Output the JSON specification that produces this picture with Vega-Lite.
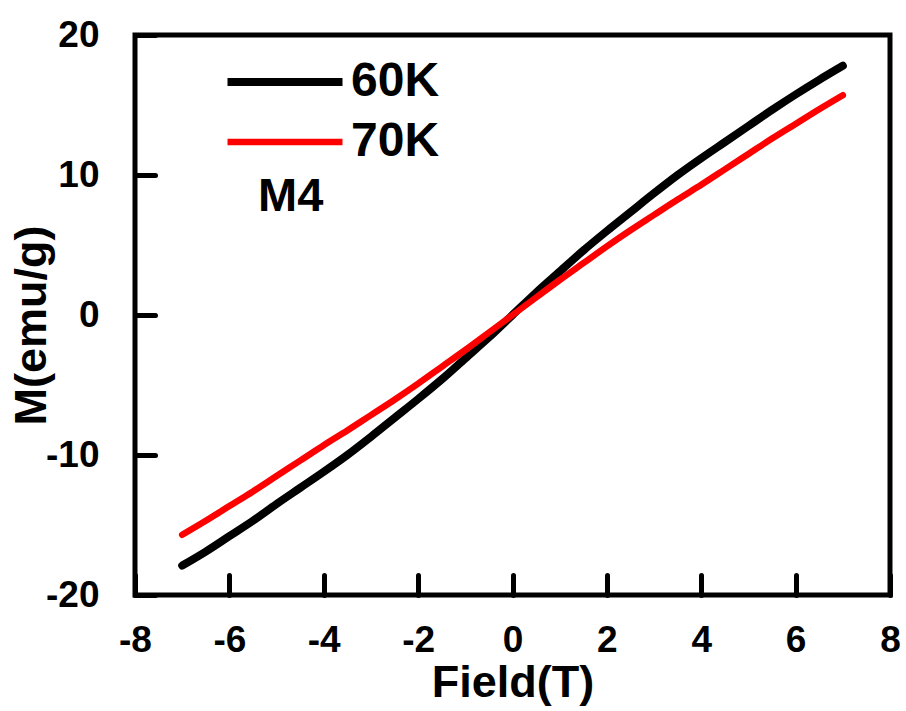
{
  "$schema": "https://vega.github.io/schema/vega-lite/v6.json",
  "width": 755,
  "height": 560,
  "autosize": {"type": "none"},
  "padding": {"left": 135, "top": 35, "right": 16, "bottom": 116},
  "background": "white",
  "config": {
    "view": {"stroke": "black", "strokeWidth": 5},
    "font": "Liberation Sans"
  },
  "layer": [
    {
      "data": {
        "values": [
          {"series": "60K", "field": -7.0, "m": -17.9},
          {"series": "60K", "field": -6.5, "m": -16.9},
          {"series": "60K", "field": -6.0, "m": -15.8},
          {"series": "60K", "field": -5.5, "m": -14.7},
          {"series": "60K", "field": -5.0, "m": -13.5},
          {"series": "60K", "field": -4.5, "m": -12.35},
          {"series": "60K", "field": -4.0, "m": -11.2},
          {"series": "60K", "field": -3.5, "m": -10.0},
          {"series": "60K", "field": -3.0, "m": -8.7},
          {"series": "60K", "field": -2.5, "m": -7.35},
          {"series": "60K", "field": -2.0, "m": -6.0},
          {"series": "60K", "field": -1.5, "m": -4.6},
          {"series": "60K", "field": -1.0, "m": -3.1},
          {"series": "60K", "field": -0.5, "m": -1.6},
          {"series": "60K", "field": 0.0, "m": 0.0},
          {"series": "60K", "field": 0.5, "m": 1.6},
          {"series": "60K", "field": 1.0, "m": 3.1},
          {"series": "60K", "field": 1.5, "m": 4.6},
          {"series": "60K", "field": 2.0, "m": 6.0},
          {"series": "60K", "field": 2.5, "m": 7.35},
          {"series": "60K", "field": 3.0, "m": 8.7},
          {"series": "60K", "field": 3.5, "m": 10.0},
          {"series": "60K", "field": 4.0, "m": 11.2},
          {"series": "60K", "field": 4.5, "m": 12.35},
          {"series": "60K", "field": 5.0, "m": 13.5},
          {"series": "60K", "field": 5.5, "m": 14.65},
          {"series": "60K", "field": 6.0, "m": 15.75},
          {"series": "60K", "field": 6.5, "m": 16.8},
          {"series": "60K", "field": 7.0, "m": 17.8},
          {"series": "70K", "field": -7.0, "m": -15.7},
          {"series": "70K", "field": -6.5, "m": -14.7},
          {"series": "70K", "field": -6.0, "m": -13.65},
          {"series": "70K", "field": -5.5, "m": -12.6},
          {"series": "70K", "field": -5.0, "m": -11.5},
          {"series": "70K", "field": -4.5, "m": -10.4},
          {"series": "70K", "field": -4.0, "m": -9.3},
          {"series": "70K", "field": -3.5, "m": -8.25},
          {"series": "70K", "field": -3.0, "m": -7.15},
          {"series": "70K", "field": -2.5, "m": -6.05},
          {"series": "70K", "field": -2.0, "m": -4.9},
          {"series": "70K", "field": -1.5, "m": -3.7},
          {"series": "70K", "field": -1.0, "m": -2.5},
          {"series": "70K", "field": -0.5, "m": -1.25},
          {"series": "70K", "field": 0.0, "m": 0.0},
          {"series": "70K", "field": 0.5, "m": 1.25},
          {"series": "70K", "field": 1.0, "m": 2.5},
          {"series": "70K", "field": 1.5, "m": 3.7},
          {"series": "70K", "field": 2.0, "m": 4.9},
          {"series": "70K", "field": 2.5, "m": 6.05},
          {"series": "70K", "field": 3.0, "m": 7.15},
          {"series": "70K", "field": 3.5, "m": 8.25},
          {"series": "70K", "field": 4.0, "m": 9.3},
          {"series": "70K", "field": 4.5, "m": 10.4},
          {"series": "70K", "field": 5.0, "m": 11.5},
          {"series": "70K", "field": 5.5, "m": 12.6},
          {"series": "70K", "field": 6.0, "m": 13.65},
          {"series": "70K", "field": 6.5, "m": 14.7},
          {"series": "70K", "field": 7.0, "m": 15.7}
        ]
      },
      "mark": {"type": "line", "strokeCap": "round", "strokeJoin": "round", "interpolate": "monotone"},
      "encoding": {
        "x": {
          "field": "field",
          "type": "quantitative",
          "scale": {"domain": [-8, 8], "nice": false, "zero": false},
          "axis": {
            "values": [-8, -6, -4, -2, 0, 2, 4, 6, 8],
            "labelExpr": "'' + datum.value",
            "domain": false,
            "grid": false,
            "tickSize": -20,
            "tickWidth": 5,
            "tickColor": "black",
            "tickCap": "round",
            "labelFont": "Liberation Sans",
            "labelFontSize": 37,
            "labelFontWeight": "bold",
            "labelColor": "black",
            "labelPadding": 47,
            "labelFlush": false,
            "labelOverlap": false,
            "title": "Field(T)",
            "titleFont": "Liberation Sans",
            "titleFontSize": 45,
            "titleFontWeight": "bold",
            "titleColor": "black",
            "titlePadding": 2
          }
        },
        "y": {
          "field": "m",
          "type": "quantitative",
          "scale": {"domain": [-20, 20], "nice": false, "zero": false},
          "axis": {
            "values": [-20, -10, 0, 10, 20],
            "labelExpr": "'' + datum.value",
            "domain": false,
            "grid": false,
            "tickSize": -20,
            "tickWidth": 5,
            "tickColor": "black",
            "tickCap": "round",
            "labelFont": "Liberation Sans",
            "labelFontSize": 37,
            "labelFontWeight": "bold",
            "labelColor": "black",
            "labelPadding": 56,
            "labelFlush": false,
            "labelOverlap": false,
            "title": "M(emu/g)",
            "titleFont": "Liberation Sans",
            "titleFontSize": 45,
            "titleFontWeight": "bold",
            "titleColor": "black",
            "titleAngle": -90,
            "titleAlign": "center",
            "titleBaseline": "alphabetic",
            "titleX": -90,
            "titleY": 290
          }
        },
        "color": {
          "field": "series",
          "type": "nominal",
          "scale": {"domain": ["60K", "70K"], "range": ["#000000", "#ff0000"]},
          "legend": {
            "orient": "none",
            "legendX": 88.5,
            "legendY": 17,
            "title": null,
            "padding": 0,
            "symbolType": "stroke",
            "symbolSize": 13225,
            "symbolStrokeWidth": 7,
            "clipHeight": 60,
            "labelFont": "Liberation Sans",
            "labelFontSize": 48,
            "labelFontWeight": "bold",
            "labelColor": "black",
            "labelOffset": 4.5,
            "rowPadding": 0
          }
        },
        "strokeWidth": {
          "field": "series",
          "type": "nominal",
          "scale": {"domain": ["60K", "70K"], "range": [8, 6.5]},
          "legend": null
        }
      }
    },
    {
      "data": {"values": [{"label": "M4"}]},
      "mark": {"type": "text", "font": "Liberation Sans", "fontSize": 47, "fontWeight": "bold", "color": "black"},
      "encoding": {
        "text": {"field": "label"},
        "x": {"datum": -4.7},
        "y": {"datum": 8.4}
      }
    }
  ]
}
